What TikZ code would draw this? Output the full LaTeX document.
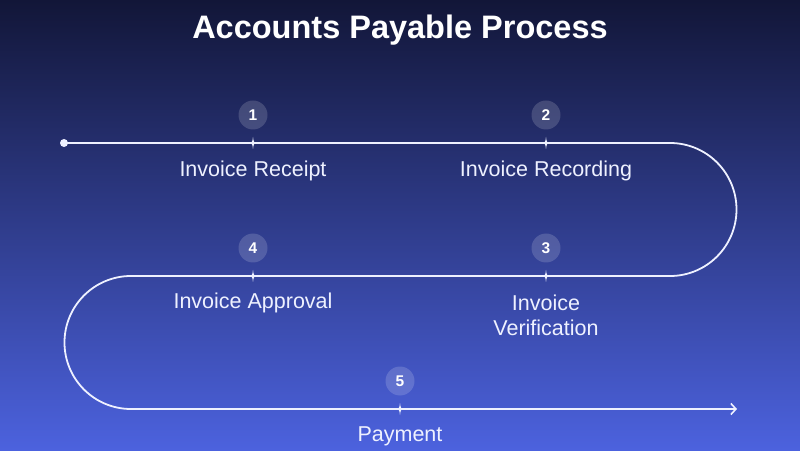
\documentclass[tikz,border=0pt]{standalone}
\usepackage{fontspec}
\setmainfont{Liberation Sans}
\usetikzlibrary{arrows.meta}
\definecolor{bgtop}{HTML}{121638}
\definecolor{bgmid}{HTML}{29368E}
\definecolor{bgbot}{HTML}{4C62DE}
\definecolor{linec}{HTML}{EEF1FF}
\begin{document}
\begin{tikzpicture}[x=1pt,y=1pt,
  badge/.style={circle,fill=white,fill opacity=0.16,text opacity=1,text=white,minimum size=29pt,inner sep=0pt,font=\fontsize{15.5}{18}\selectfont\bfseries},
  steplabel/.style={text=linec,font=\fontsize{21.5}{25}\selectfont,align=center,inner sep=0pt},
  flow/.style={draw=linec,line width=1.8pt},
  sparkle/.pic={\fill[linec] (0,6) .. controls (0.6,1) and (1,0.6) .. (2.8,0) .. controls (1,-0.6) and (0.6,-1) .. (0,-6) .. controls (-0.6,-1) and (-1,-0.6) .. (-2.8,0) .. controls (-1,0.6) and (-0.6,1) .. cycle;}]
\useasboundingbox (0,0) rectangle (800,450);
\shade[top color=bgtop,middle color=bgmid,bottom color=bgbot] (0,0) rectangle (800,450);
\node[text=white,font=\fontsize{32.5}{38}\selectfont\bfseries] (title) at (400,420) {Accounts Payable Process};
% flow line
\node[circle,fill=linec,minimum size=8pt,inner sep=0pt] (start) at (64,307) {};
\coordinate (endp) at (737,41);
\draw[flow,-{Straight Barb[length=5pt,width=11pt,line width=1.6pt]}]
  (start.center) -- (670,307) arc[start angle=90,end angle=-90,radius=66.5]
  -- (131,174) arc[start angle=90,end angle=270,radius=66.5] -- (endp);
% markers
\coordinate (m1) at (253,307);
\coordinate (m2) at (546,307);
\coordinate (m3) at (546,174);
\coordinate (m4) at (253,174);
\coordinate (m5) at (400,41);
\foreach \m in {m1,m2,m3,m4,m5} \pic at (\m) {sparkle};
% badges
\node[badge] (b1) at (253,335) {1};
\node[badge] (b2) at (546,335) {2};
\node[badge] (b3) at (546,202) {3};
\node[badge] (b4) at (253,202) {4};
\node[badge] (b5) at (400,69) {5};
% labels
\node[steplabel] (l1) at (253,279) {Invoice Receipt};
\node[steplabel] (l2) at (546,279) {Invoice Recording};
\node[steplabel] (l3) at (546,134.5) {Invoice\\Verification};
\node[steplabel] (l4) at (253,147) {Invoice Approval};
\node[steplabel] (l5) at (400,13.5) {Payment};
\end{tikzpicture}
\end{document}
